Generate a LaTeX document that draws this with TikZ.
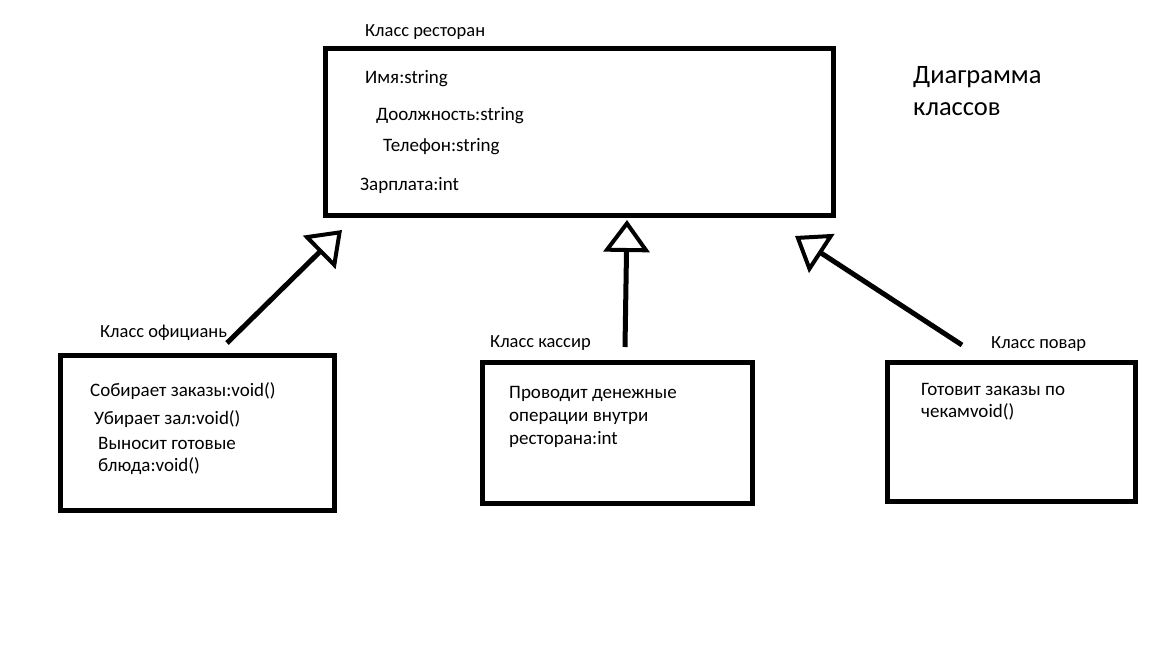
\documentclass[tikz,border=0pt]{standalone}
\usepackage{fontspec}
\setmainfont{Carlito}
\usetikzlibrary{arrows.meta}
\tikzstyle{classbox} = [rectangle, draw=black, line width=5pt, inner sep=0pt]
\tikzstyle{txt} = [anchor=west, inner sep=0pt, font=\fontsize{19}{22}\selectfont]
\tikzstyle{head} = [anchor=west, inner sep=0pt, font=\fontsize{18.5}{22}\selectfont]
\tikzstyle{inherit} = [line width=5pt, -{Triangle[open, length=32pt, width=46pt, line width=4pt]}]

\begin{document}
\begin{tikzpicture}[x=1pt,y=-1pt]
\useasboundingbox (0,0) rectangle (1152,648);
% boxes
\node (rest) [classbox, minimum width=508pt, minimum height=167pt] at (579,131.5) {};
\node (waiter) [classbox, minimum width=274pt, minimum height=155pt] at (197,432.5) {};
\node (cashier) [classbox, minimum width=270pt, minimum height=141pt] at (617,432.5) {};
\node (cook) [classbox, minimum width=248pt, minimum height=139pt] at (1011,431.5) {};
% restaurant
\node (resthead) [head] at (365,32) {Класс ресторан};
\node (name) [txt] at (365,79) {Имя:string};
\node (post) [txt] at (376,116) {Доолжность:string};
\node (phone) [txt] at (383,147) {Телефон:string};
\node (salary) [txt] at (360,185) {Зарплата:int};
\node (title) [anchor=west, inner sep=0pt, align=left, font=\fontsize{26.5}{32}\selectfont] at (913,91) {Диаграмма\\классов};
% waiter
\node (waiterhead) [head] at (100,333) {Класс официань};
\node (w1) [txt] at (90,391) {Собирает заказы:void()};
\node (w2) [txt] at (94,419) {Убирает зал:void()};
\node (w3) [txt, align=left, font=\fontsize{19}{22}\selectfont] at (98,456) {Выносит готовые\\блюда:void()};
% cashier
\node (cashierhead) [head] at (490,343) {Класс кассир};
\node (c1) [txt, align=left, font=\fontsize{19}{23}\selectfont] at (509,417) {Проводит денежные\\операции внутри\\ресторана:int};
% cook
\node (cookhead) [head] at (991,344) {Класс повар};
\node (k1) [txt, align=left, font=\fontsize{19}{22}\selectfont] at (921,402) {Готовит заказы по\\чекамvoid()};
% inheritance arrows
\coordinate (wfrom) at (227,343);
\coordinate (wto) at (342,230);
\coordinate (cfrom) at (625,347);
\coordinate (cto) at (627,220);
\coordinate (kfrom) at (962,345);
\coordinate (kto) at (795,236);
\draw [inherit] (wfrom) -- (wto);
\draw [inherit] (cfrom) -- (cto);
\draw [inherit] (kfrom) -- (kto);
\end{tikzpicture}
\end{document}
